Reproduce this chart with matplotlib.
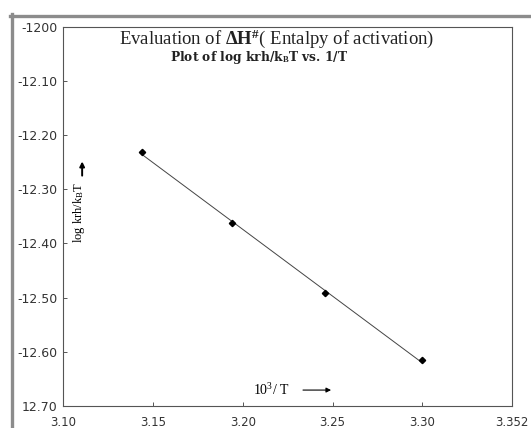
import matplotlib.pyplot as plt
import matplotlib.lines as mlines
import numpy as np

plt.rcParams['mathtext.fontset'] = 'custom'
plt.rcParams['mathtext.rm'] = 'Liberation Serif'
plt.rcParams['mathtext.it'] = 'Liberation Serif:italic'
plt.rcParams['mathtext.bf'] = 'Liberation Serif:bold'

# data
invT = np.array([3.144, 3.194, 3.246, 3.300])
logk = np.array([-12.232, -12.363, -12.492, -12.616])

xticks = [3.10, 3.15, 3.20, 3.25, 3.30, 3.35]
xticklabels = ["3.10", "3.15", "3.20", "3.25", "3.30", "3.352"]
yticks = [-12.00, -12.10, -12.20, -12.30, -12.40, -12.50, -12.60, -12.70]
yticklabels = ["-1200", "-12.10", "-12.20", "-12.30", "-12.40", "-12.50", "-12.60", "12.70"]

W, H = 531, 428
fig = plt.figure(figsize=(W / 100, H / 100), dpi=100)
fig.patch.set_facecolor("white")

# grey frame of the scanned page (left and top edges)
fig.add_artist(mlines.Line2D([11.5 / W, 11.5 / W], [0, 1 - 14 / H], transform=fig.transFigure,
                             color="#8c8c8c", linewidth=2.4))
fig.add_artist(mlines.Line2D([10 / W, 1], [1 - 15.5 / H, 1 - 15.5 / H], transform=fig.transFigure,
                             color="#8c8c8c", linewidth=2.4))

ax = fig.add_axes([63.3 / W, 1 - 406 / H, (512 - 63.3) / W, (406 - 26.7) / H])
for s in ax.spines.values():
    s.set_color("#555555")
    s.set_linewidth(0.8)

# fitted line plus points
fit = np.polyfit(invT, logk, 1)
xl = np.array([invT[0], invT[-1]])
ax.plot(xl, np.polyval(fit, xl), color="#444444", linewidth=0.7)
ax.plot(invT, logk, "D", color="black", markersize=3.2)

ax.set_xlim(3.10, 3.35)
ax.set_ylim(-12.70, -12.00)
ax.set_xticks(xticks)
ax.set_xticklabels(xticklabels, family="DejaVu Sans", fontsize=8.5, color="#333333")
ax.set_yticks(yticks)
ax.set_yticklabels(yticklabels, family="DejaVu Sans", fontsize=9, color="#333333")
ax.tick_params(direction="in", length=3, width=0.7, color="#555555")
ax.tick_params(axis="x", pad=7)
ax.tick_params(axis="y", pad=4)

ax.text(0.476, 0.997, r"Evaluation of $\mathbf{\Delta H^{\#}}$( Entalpy of activation)",
        transform=ax.transAxes, ha="center", va="top", family="Liberation Serif", fontsize=13.5,
        color="#222222")
ax.text(0.436, 0.94, r"Plot of log krh/k$_\mathbf{B}$T vs. 1/T",
        transform=ax.transAxes, ha="center", va="top", family="DejaVu Serif", fontsize=8.8,
        fontweight="bold", color="#222222")

# axis captions with arrows
ax.text(0.035, 0.51, r"log krh/k$_\mathregular{B}$T", transform=ax.transAxes, rotation=90,
        ha="center", va="center", family="Liberation Serif", fontsize=9)
ax.annotate("", xy=(0.042, 0.652), xytext=(0.042, 0.600), xycoords="axes fraction",
            arrowprops=dict(arrowstyle="-|>", color="black", lw=1.4, mutation_scale=7))
ax.text(0.463, 0.042, r"10$^3$/ T", transform=ax.transAxes, ha="center", va="center",
        family="Liberation Serif", fontsize=10)
ax.annotate("", xy=(0.603, 0.042), xytext=(0.528, 0.042), xycoords="axes fraction",
            arrowprops=dict(arrowstyle="-|>", color="black", lw=0.8, mutation_scale=7))

fig.savefig("out.png", dpi=100)
